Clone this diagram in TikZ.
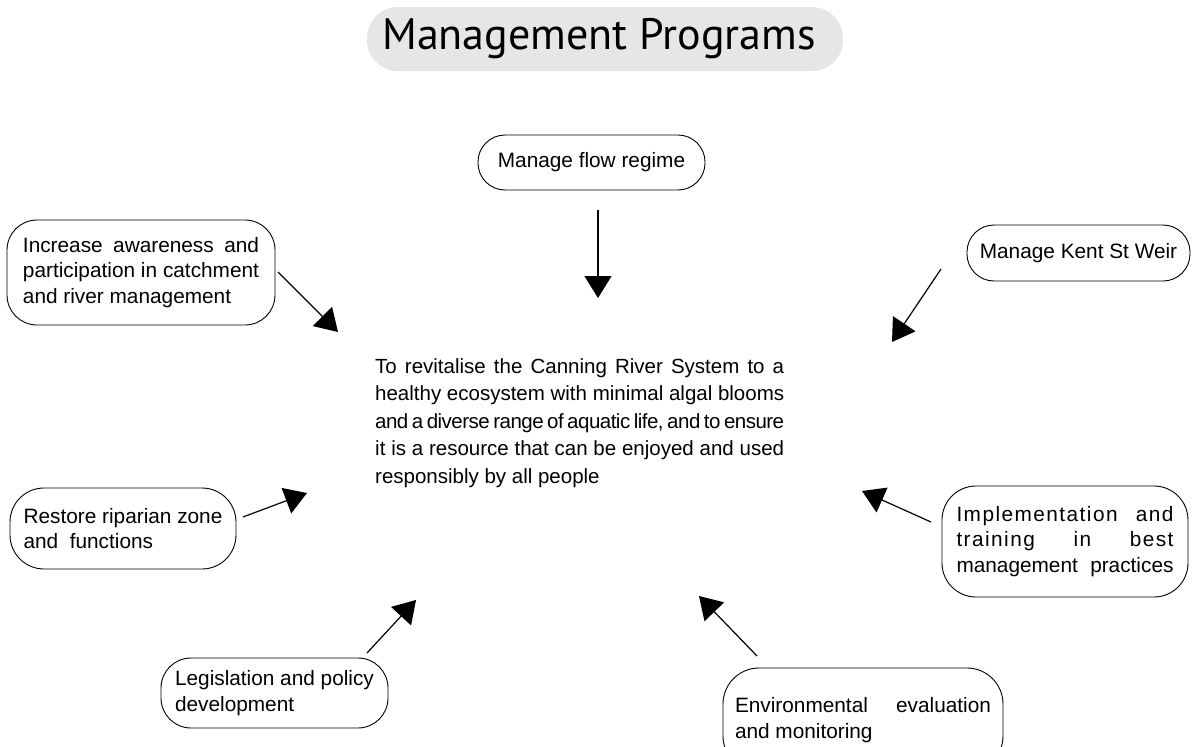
\documentclass[tikz,border=0pt]{standalone}
\usepackage{fontspec}
\setmainfont{Liberation Sans}
\newfontfamily\titlefont{PT Sans}
\usetikzlibrary{arrows.meta}
\definecolor{titlegray}{HTML}{E6E6E6}
\begin{document}
\begin{tikzpicture}[x=1pt,y=-1pt,
  pbox/.style={draw=black, line width=0.9pt, inner sep=0pt, align=left,
    font=\fontsize{20.8}{25.5}\selectfont},
  arr/.style={line width=1.2pt, -{Triangle[length=22pt,width=27pt]}}]
\useasboundingbox (0,0) rectangle (1192,747);

% title
\node[fill=titlegray, rounded corners=31pt, minimum width=476pt, minimum height=64pt,
  inner sep=0pt, font=\titlefont\fontsize{44}{50}\selectfont] (title) at (605,39)
  {\hspace*{-12pt}Management Programs};

% central goal text
\node[anchor=north west, inner sep=0pt] (goal) at (375,358) {\parbox{409pt}{\fontsize{20.5}{27.5}\selectfont
\makebox[409pt][s]{To revitalise the Canning River System to a}\\
\makebox[409pt][s]{healthy ecosystem with minimal algal blooms}\\
\makebox[409pt][s]{\addfontfeatures{LetterSpace=-2.5}\spaceskip=4pt plus 6pt minus 1pt and a diverse range of aquatic life, and to ensure}\\
\makebox[409pt][s]{it is a resource that can be enjoyed and used}\\
responsibly by all people}};

% boxes
\node[pbox, rounded corners=27pt, minimum width=227pt, minimum height=55pt] (flow) at (591.5,162.5)
  {Manage flow regime};
\node[pbox, rounded corners=30pt, minimum width=268pt, minimum height=105pt] (aware) at (141,272.5)
  {\makebox[236pt][s]{Increase awareness and}\\ \makebox[236pt][s]{participation in catchment}\\ and river management};
\node[pbox, rounded corners=27pt, minimum width=223pt, minimum height=56pt] (kent) at (1078.5,253)
  {Manage Kent St Weir};
\node[pbox, rounded corners=34pt, minimum width=226pt, minimum height=81pt] (ripar) at (123,528.5)
  {Restore riparian zone\\ and\ \ functions};
\node[pbox, rounded corners=34pt, minimum width=246pt, minimum height=111pt] (impl) at (1065,541.5)
  {\makebox[217pt][s]{\addfontfeatures{LetterSpace=7}Implementation and}\\
   \makebox[217pt][s]{\addfontfeatures{LetterSpace=7}training in best}\\
   \makebox[217pt][s]{management practices}};
\node[pbox, rounded corners=30pt, minimum width=227pt, minimum height=70pt] (legis) at (274.5,693)
  {Legislation and policy\\ development};
\node[pbox, rounded corners=36pt, minimum width=280pt, minimum height=104pt] (envir) at (863,720)
  {\makebox[256pt][s]{Environmental evaluation}\\ and monitoring};

% arrow end points
\coordinate (s1) at (598,210);  \coordinate (t1) at (598,298);
\coordinate (s2) at (278,272);  \coordinate (t2) at (338,332);
\coordinate (s3) at (941,269);  \coordinate (t3) at (892,342);
\coordinate (s4) at (243,517);  \coordinate (t4) at (307,493);
\coordinate (s5) at (931,522);  \coordinate (t5) at (862,491);
\coordinate (s6) at (367,653);  \coordinate (t6) at (416,600);
\coordinate (s7) at (757,656);  \coordinate (t7) at (699,596);

\draw[arr] (s1) -- (t1);
\draw[arr] (s2) -- (t2);
\draw[arr] (s3) -- (t3);
\draw[arr] (s4) -- (t4);
\draw[arr] (s5) -- (t5);
\draw[arr] (s6) -- (t6);
\draw[arr] (s7) -- (t7);
\end{tikzpicture}
\end{document}
